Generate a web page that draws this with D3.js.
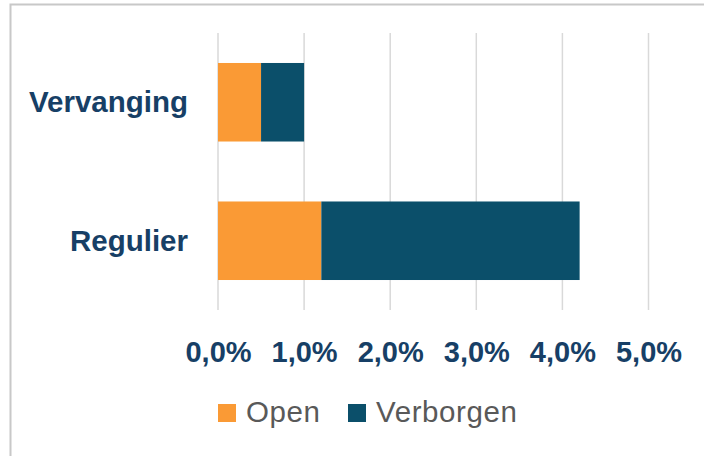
<!DOCTYPE html>
<html>
<head>
<meta charset="utf-8">
<script src="https://cdn.jsdelivr.net/npm/d3@7"></script>
<style>
  body { margin: 0; background: #ffffff; }
  svg { display: block; }
</style>
</head>
<body>
<div id="chart"></div>
<script>
// chart data
var categories = ["Vervanging", "Regulier"];
var seriesNames = ["Open", "Verborgen"];
var openValues = [0.005, 0.012];
var verborgenValues = [0.005, 0.030];
var tickValues = [0, 0.01, 0.02, 0.03, 0.04, 0.05];

var colors = ["#FA9A35", "#0B4F6A"];

var width = 704, height = 456;

var svg = d3.select("#chart").append("svg")
    .attr("width", width)
    .attr("height", height);

// outer frame
svg.append("rect")
    .attr("x", 10.5).attr("y", 4.5)
    .attr("width", 720).attr("height", 480)
    .attr("fill", "none")
    .attr("stroke", "#c8c8c8")
    .attr("stroke-width", 2);

var rows = categories.map(function (c, i) {
    return { category: c, Open: openValues[i], Verborgen: verborgenValues[i] };
});
var stacked = d3.stack().keys(seriesNames)(rows);

var x = d3.scaleLinear().domain([0, 0.05]).range([218, 648.5]);
var y = d3.scaleBand().domain(categories).range([33, 310])
    .paddingInner(0.433).paddingOuter(0.2165);

// gridlines
svg.append("g").selectAll("line")
    .data(tickValues)
    .enter().append("line")
    .attr("x1", function (d) { return x(d); })
    .attr("x2", function (d) { return x(d); })
    .attr("y1", 33)
    .attr("y2", 310)
    .attr("stroke", "#d9d9d9")
    .attr("stroke-width", 1.5);

// bars
svg.append("g").selectAll("g")
    .data(stacked)
    .enter().append("g")
    .attr("fill", function (d, i) { return colors[i]; })
    .selectAll("rect")
    .data(function (d) { return d; })
    .enter().append("rect")
    .attr("x", function (d) { return x(d[0]); })
    .attr("y", function (d) { return y(d.data.category); })
    .attr("width", function (d) { return x(d[1]) - x(d[0]); })
    .attr("height", y.bandwidth());

var fontFam = "'Liberation Sans', Arial, sans-serif";

// category labels
svg.append("g").selectAll("text")
    .data(categories)
    .enter().append("text")
    .attr("x", 188)
    .attr("y", function (d) { return y(d) + y.bandwidth() / 2 + 10; })
    .attr("text-anchor", "end")
    .style("font-family", fontFam)
    .style("font-size", "29.5px")
    .style("font-weight", "bold")
    .style("fill", "#173F66")
    .text(function (d) { return d; });

// x axis tick labels
var fmt = function (d) { return (d * 100).toFixed(1).replace(".", ",") + "%"; };
var xAxis = d3.axisBottom(x).tickValues(tickValues).tickFormat(fmt).tickSize(0);
var gx = svg.append("g")
    .attr("transform", "translate(0,362)")
    .call(xAxis);
gx.select(".domain").remove();
gx.selectAll("text")
    .attr("y", 0)
    .attr("dy", 0)
    .style("font-family", fontFam)
    .style("font-size", "29px")
    .style("font-weight", "bold")
    .style("fill", "#173F66");

// legend
var legendX = [218, 348];
var legend = svg.append("g").selectAll("g")
    .data(seriesNames)
    .enter().append("g")
    .attr("transform", function (d, i) { return "translate(" + legendX[i] + ",404)"; });
legend.append("rect")
    .attr("width", 18).attr("height", 18)
    .attr("fill", function (d, i) { return colors[i]; });
legend.append("text")
    .attr("x", 28)
    .attr("y", 18)
    .style("font-family", fontFam)
    .style("font-size", "29.5px")
    .style("letter-spacing", "0.6px")
    .style("fill", "#595959")
    .text(function (d) { return d; });
</script>
</body>
</html>
